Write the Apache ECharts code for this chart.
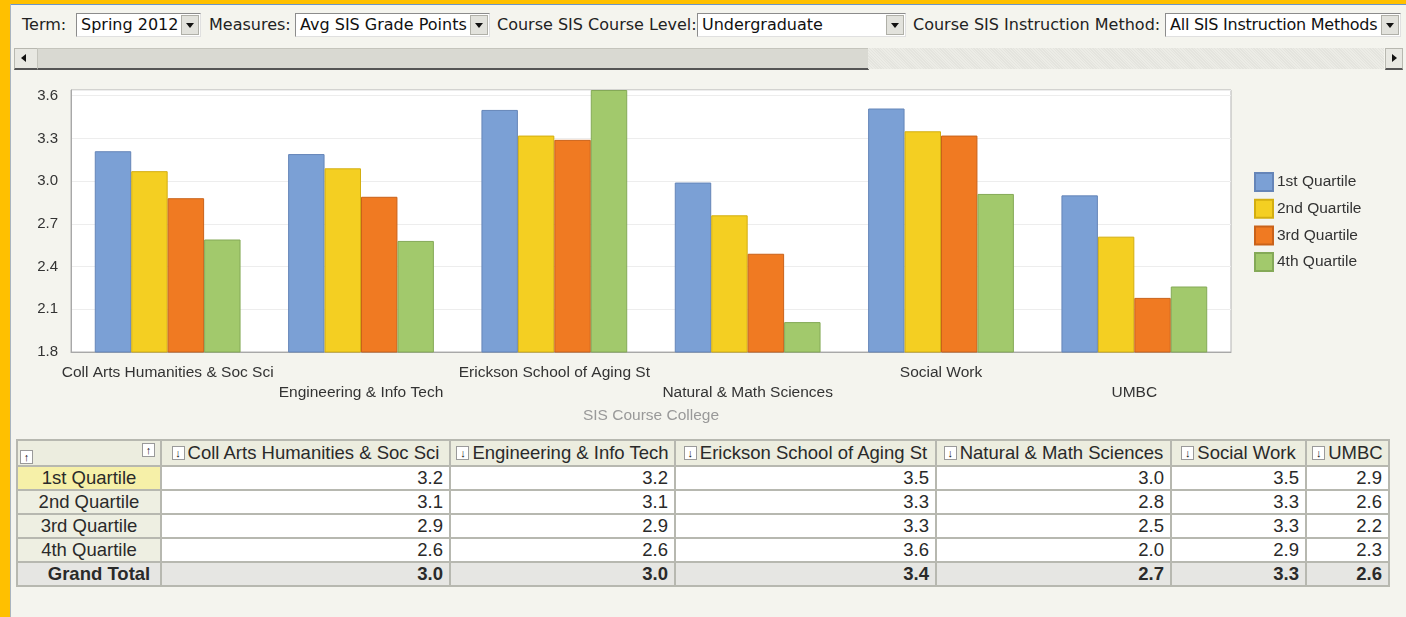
<!DOCTYPE html>
<html>
<head>
<meta charset="utf-8">
<script src="https://cdn.jsdelivr.net/npm/echarts@6/dist/echarts.min.js"></script>
<style>
    html, body { margin: 0; padding: 0; }
    body {
        width: 1406px; height: 617px; overflow: hidden; position: relative;
        background: #f4f4ee;
        font-family: "Liberation Sans", Arial, sans-serif;
    }
    .frame-top { position: absolute; left: 0; top: 0; width: 1406px; height: 4px; background: #ffc000; }
    .frame-top-line { position: absolute; left: 10px; top: 4px; width: 1396px; height: 1px; background: #6d95c8; }
    .frame-left { position: absolute; left: 0; top: 0; width: 10px; height: 617px; background: #ffc000; }
    .frame-left-line { position: absolute; left: 10px; top: 4px; width: 1px; height: 613px; background: #a9b4bf; }

    .tb { position: absolute; top: 13px; height: 24px; line-height: 24px; font-family: "DejaVu Sans", sans-serif; font-size: 16px; color: #222; white-space: nowrap; }
    .sel { position: absolute; top: 13px; height: 22px; background: #fff; border: 1px solid #8c8c8c; border-right-color: #e0e0e0; border-bottom-color: #e0e0e0; font-family: "DejaVu Sans", sans-serif; font-size: 16px; line-height: 22px; color: #111; white-space: nowrap; overflow: hidden; }
    .sel span { position: absolute; left: 4px; top: 0; }
    .sel .btn { position: absolute; right: 1px; top: 1px; width: 16px; height: 18px; background: #e2e2dc; border: 1px solid #b0b0a8; }
    .sel .btn:after { content: ""; position: absolute; left: 4px; top: 7px; border-left: 4px solid transparent; border-right: 4px solid transparent; border-top: 5px solid #111; }

    .scroll { position: absolute; top: 48px; height: 21px; }
    #chart { position: absolute; left: 0; top: 0; width: 1406px; height: 430px; }

    table { position: absolute; left: 16px; top: 439px; border-collapse: collapse; font-size: 18.5px; color: #2a2a2a; table-layout: fixed; }
    td, th { border: 2px solid #b7b8b0; padding: 0 6px; white-space: nowrap; overflow: hidden; }
    th { height: 24px; background: #eceddf; font-weight: normal; text-align: center; padding: 0 2px; }
    td { height: 22px; line-height: 22px; background: #fff; text-align: right; }
    td.rh { background: #eeefe2; text-align: center; padding: 0 2px; }
    td.hl { background: #f6f0a8; }
    tr.total td { background: #e6e6e3; font-weight: bold; }
    tr.total td.rh { padding-left: 22px; }
    .ico { display: inline-block; width: 11px; height: 12px; border: 1px solid #9a9a9a; background: #fff; font-size: 11px; line-height: 12px; text-align: center; vertical-align: 2px; margin-right: 3px; color: #111; }
</style>
</head>
<body>
<div class="frame-top"></div>
<div class="frame-left"></div>
<div class="frame-top-line"></div>
<div class="frame-left-line"></div>

<div class="tb" style="left:22px">Term:</div>
<div class="sel" style="left:76px;width:123px"><span>Spring 2012</span><div class="btn"></div></div>
<div class="tb" style="left:209px">Measures:</div>
<div class="sel" style="left:295px;width:193px"><span>Avg SIS Grade Points</span><div class="btn"></div></div>
<div class="tb" style="left:497px">Course SIS Course Level:</div>
<div class="sel" style="left:697px;width:207px"><span>Undergraduate</span><div class="btn"></div></div>
<div class="tb" style="left:913px">Course SIS Instruction Method:</div>
<div class="sel" style="left:1165px;width:234px"><span style="letter-spacing:-0.25px">All SIS Instruction Methods</span><div class="btn"></div></div>

<div class="scroll" style="left:14px;width:22px;background:#e8e8e2;border:1px solid #b8b8b0;border-bottom:2px solid #555;height:19px"></div>
<div style="position:absolute;left:21px;top:54px;border-top:4px solid transparent;border-bottom:4px solid transparent;border-right:5px solid #111"></div>
<div class="scroll" style="left:37px;width:830px;background:#d9d9d2;border:1px solid #c4c4bc;border-bottom:2px solid #555;height:19px"></div>
<div class="scroll" style="left:868px;width:516px;background:repeating-linear-gradient(45deg,#ececE6 0 1px,#e4e4de 1px 2px)"></div>
<div class="scroll" style="left:1385px;width:16px;background:#e8e8e2;border:1px solid #b8b8b0;border-bottom:2px solid #555;height:19px"></div>
<div style="position:absolute;left:1392px;top:54px;border-top:4px solid transparent;border-bottom:4px solid transparent;border-left:5px solid #111"></div>

<div id="chart"></div>
<table id="grid"></table>

<script>
// categories and series
const colleges = ['Coll Arts Humanities & Soc Sci', 'Engineering & Info Tech', 'Erickson School of Aging St',
    'Natural & Math Sciences', 'Social Work', 'UMBC'];
const quartiles = ['1st Quartile', '2nd Quartile', '3rd Quartile', '4th Quartile'];

// bar heights
const q1 = [3.21, 3.19, 3.50, 2.99, 3.51, 2.90];
const q2 = [3.07, 3.09, 3.32, 2.76, 3.35, 2.61];
const q3 = [2.88, 2.89, 3.29, 2.49, 3.32, 2.18];
const q4 = [2.59, 2.58, 3.64, 2.01, 2.91, 2.26];

// table values as printed
const t1 = ['3.2', '3.2', '3.5', '3.0', '3.5', '2.9'];
const t2 = ['3.1', '3.1', '3.3', '2.8', '3.3', '2.6'];
const t3 = ['2.9', '2.9', '3.3', '2.5', '3.3', '2.2'];
const t4 = ['2.6', '2.6', '3.6', '2.0', '2.9', '2.3'];
const grandTotal = ['3.0', '3.0', '3.4', '2.7', '3.3', '2.6'];

const yTicks = [1.8, 2.1, 2.4, 2.7, 3.0, 3.3, 3.6];

let colors = ['#7ba0d5', '#f4cf22', '#f07a22', '#a2c96c'];
let borders = ['#6585b8', '#d3ae10', '#c9621a', '#84a957'];
let font = '"Liberation Sans", Arial, sans-serif';

let chart = echarts.init(document.getElementById('chart'));
let seriesData = [q1, q2, q3, q4];
chart.setOption({
    animation: false,
    textStyle: { fontFamily: font },
    grid: {
        left: 71, top: 90, width: 1160, height: 262,
        show: true,
        backgroundColor: '#ffffff',
        borderColor: '#b3b3b3',
        borderWidth: 1,
    },
    legend: {
        orient: 'vertical',
        left: 1254,
        top: 172,
        padding: 0,
        itemWidth: 18,
        itemHeight: 18,
        itemGap: 6.7,
        icon: 'rect',
        data: quartiles,
        textStyle: { fontSize: 15.5, color: '#333', fontFamily: font, padding: [0, 0, 0, -1] },
    },
    xAxis: {
        type: 'category',
        data: colleges,
        name: 'SIS Course College',
        nameLocation: 'middle',
        nameGap: 48,
        nameTextStyle: { fontSize: 15.5, color: '#999', fontFamily: font },
        axisLine: { lineStyle: { color: '#a8a8a8' } },
        axisTick: { alignWithLabel: true, length: 5, lineStyle: { color: '#a8a8a8' } },
        axisLabel: {
            interval: 0,
            margin: 11,
            fontSize: 15.5,
            lineHeight: 20,
            color: '#333',
            formatter: function (v, i) {
                return i % 2 ? '\n' + v : v;
            }
        },
    },
    yAxis: {
        type: 'value',
        min: yTicks[0],
        max: 3.64,
        interval: 0.3,
        axisLine: { show: true, lineStyle: { color: '#a8a8a8' } },
        axisTick: { show: false },
        axisLabel: {
            margin: 13,
            fontSize: 15,
            color: '#333',
            showMaxLabel: false,
            formatter: function (v) { return v.toFixed(1); }
        },
        splitLine: { lineStyle: { color: '#ededed' } },
    },
    series: quartiles.map(function (q, i) {
        return {
            name: q,
            type: 'bar',
            data: seriesData[i],
            barGap: '0%',
            barCategoryGap: '24.6%',
            itemStyle: { color: colors[i], borderColor: borders[i], borderWidth: 1 },
        };
    }),
});

// pivot table below the chart
let colWidths = [144, 289, 225, 261, 235, 135, 83];
let tableRows = [t1, t2, t3, t4];
let html = '<colgroup>' + colWidths.map(w => '<col style="width:' + w + 'px">').join('') + '</colgroup>';
html += '<tr><th style="position:relative"><span class="ico" style="position:absolute;left:2px;bottom:1px">&#8593;</span>' +
    '<span class="ico" style="position:absolute;right:2px;top:2px">&#8593;</span></th>';
colleges.forEach(function (c) {
    html += '<th><span class="ico">&#8595;</span>' + c + '</th>';
});
html += '</tr>';
quartiles.forEach(function (q, i) {
    html += '<tr><td class="rh' + (i === 0 ? ' hl' : '') + '">' + q + '</td>';
    tableRows[i].forEach(function (v) { html += '<td>' + v + '</td>'; });
    html += '</tr>';
});
html += '<tr class="total"><td class="rh">Grand Total</td>';
grandTotal.forEach(function (v) { html += '<td>' + v + '</td>'; });
html += '</tr>';
document.getElementById('grid').innerHTML = html;
</script>
</body>
</html>
